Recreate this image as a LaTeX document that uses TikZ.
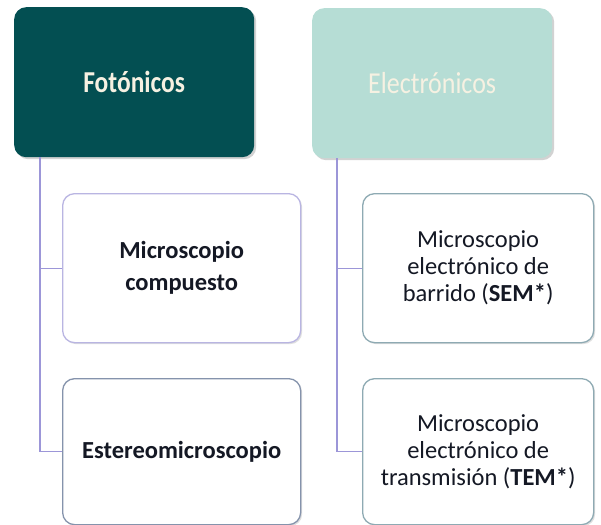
\documentclass[tikz,border=0pt]{standalone}
\usepackage{fontspec}
\setmainfont{Carlito}
\usetikzlibrary{shadows}
\definecolor{darkteal}{HTML}{034F52}
\definecolor{lightteal}{HTML}{B6DDD5}
\definecolor{headtxt}{HTML}{F6F1E2}
\definecolor{lav}{HTML}{B9B5E2}
\definecolor{slate}{HTML}{8593AC}
\definecolor{grteal}{HTML}{8EAAB3}
\definecolor{conn}{HTML}{9C96D8}
\definecolor{childtxt}{HTML}{141824}
\begin{document}
\begin{tikzpicture}[x=1pt,y=-1pt,
  head/.style={rounded corners=12pt, minimum width=240pt, minimum height=150pt, anchor=north west,
    inner sep=0pt, text=headtxt, font=\fontsize{26}{30}\selectfont,
    drop shadow={shadow xshift=2pt, shadow yshift=-2pt, opacity=0.35, fill=gray}},
  child/.style={rounded corners=12pt, minimum width=238pt, minimum height=149pt, anchor=north west,
    inner sep=0pt, fill=white, line width=1.3pt, text=childtxt, align=center,
    drop shadow={shadow xshift=1.5pt, shadow yshift=-1.5pt, opacity=0.25, fill=gray}},
  link/.style={draw=conn, line width=1.1pt}]
\useasboundingbox (0,0) rectangle (601,524);
\fill[white] (0,0) rectangle (601,524);
\node[head, fill=darkteal, font=\fontsize{26}{30}\selectfont\bfseries] (fot) at (14,7) {\scalebox{0.98}[1.17]{Fotónicos}};
\node[head, fill=lightteal] (ele) at (312,8) {\scalebox{1}[1.17]{Electrónicos}};
\node[child, draw=lav, font=\fontsize{24.5}{32}\selectfont\bfseries] (mc) at (62,193) {Microscopio\\compuesto};
\node[child, draw=slate, minimum height=146pt, font=\fontsize{24.5}{32}\selectfont\bfseries] (est) at (62,378) {Estereomicroscopio};
\node[child, draw=grteal, minimum width=231pt, font=\fontsize{24.5}{27}\selectfont] (sem) at (362,193) {Microscopio\\electrónico de\\barrido (\textbf{SEM*})};
\node[child, draw=grteal, minimum width=231pt, minimum height=146pt, font=\fontsize{24.5}{27}\selectfont] (tem) at (362,378) {Microscopio\\electrónico de\\transmisión (\textbf{TEM*})};
\draw[link] ([xshift=26pt]fot.south west) |- (mc.west);
\draw[link] ([xshift=26pt]fot.south west) |- (est.west);
\draw[link] ([xshift=25pt]ele.south west) |- (sem.west);
\draw[link] ([xshift=25pt]ele.south west) |- (tem.west);
\end{tikzpicture}
\end{document}
